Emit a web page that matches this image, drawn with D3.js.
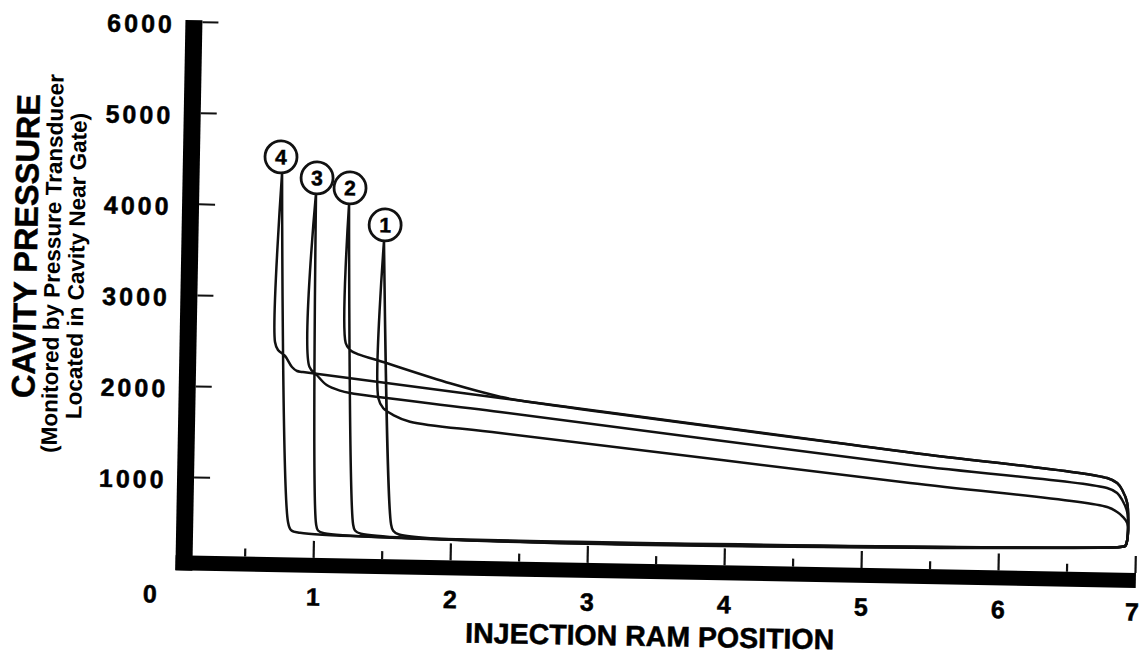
<!DOCTYPE html>
<html>
<head>
<meta charset="utf-8">
<script src="https://cdn.jsdelivr.net/npm/d3@7"></script>
<style>
  html, body { margin: 0; padding: 0; background: #fff; }
  svg { display: block; }
  text { font-family: "Liberation Sans", Arial, Helvetica, sans-serif; font-weight: bold; fill: #000; }
  .heavy { stroke: #000; stroke-width: 0.5px; }
</style>
</head>
<body>
<svg id="chart" width="1140" height="661"></svg>
<script>
// ---------- data ----------
const xTickValues = [1, 2, 3, 4, 5, 6, 7];
const xMinorTickValues = [0.5, 1.5, 2.5, 3.5, 4.5, 5.5, 6.5];
const xOriginLabel = "0";
const yTickValues = [1000, 2000, 3000, 4000, 5000, 6000];
const xTitle = "INJECTION RAM POSITION";
const yTitle = "CAVITY PRESSURE";
const ySubtitle1 = "(Monitored by Pressure Transducer";
const ySubtitle2 = "Located in Cavity Near Gate)";

const curveNames = ["1", "2", "3", "4"];
// label circle position (ram position, pressure) for each curve
const labelX = [1.481, 1.220, 0.978, 0.712];
const labelY = [3806, 4205, 4308, 4532];

// each curve is a closed pressure loop: [ram position, cavity pressure]
const curve1 = [[1.475,3630],[1.564,524],[1.580,453],[1.624,411],[6.888,419],[6.925,430],[6.939,497],
  [6.937,683],[6.906,748],[6.862,802],[6.788,855],[5.347,1079],[2.348,1545],[1.689,1651],[1.566,1721],
  [1.492,1793],[1.455,1902],[1.475,3630]];
const curve2 = [[1.215,4029],[1.287,517],[1.302,446],[1.346,411],[6.888,419],[6.925,430],[6.939,497],
  [6.934,902],[6.896,1045],[6.858,1120],[6.784,1173],[5.343,1414],[2.465,1911],[2.343,1944],[1.976,2081],
  [1.438,2322],[1.315,2374],[1.242,2426],[1.209,2502],[1.215,4029]];
const curve3 = [[0.9725,4144],[1.017,509],[1.032,438],[1.076,410],[6.888,419],[6.925,430],[6.939,497],
  [6.935,804],[6.897,935],[6.859,1011],[6.785,1063],[5.345,1276],[2.345,1776],[1.247,1954],[1.174,1978],
  [1.076,2037],[1.002,2145],[0.947,2235],[0.9725,4144]];
const curve4 = [[0.722,4356],[0.812,526],[0.835,438],[0.901,410],[6.888,419],[6.925,430],[6.939,497],
  [6.934,902],[6.896,1045],[6.858,1120],[6.784,1173],[5.343,1414],[2.343,1930],[0.901,2176],[0.858,2185],
  [0.820,2228],[0.768,2348],[0.716,2412],[0.693,2499],[0.722,4356]];
const curves = [curve1, curve2, curve3, curve4];

// ---------- layout ----------
const svg = d3.select("#chart");
const x = d3.scaleLinear().domain([0, 7]).range([176, 1135]);
const y = d3.scaleLinear().domain([0, 6000]).range([568, 21.5]);

// the scanned figure is tilted slightly clockwise
const g = svg.append("g").attr("transform", "rotate(1.05,185,563)");

const ink = "#111";

// thick axis bars
const yBarW = 17, xBarH = 15;
const xBarTop = y(0) - 12.5;
g.append("rect").attr("x", x(0) - 0.5).attr("y", y(6000) - 1.5)
  .attr("width", yBarW).attr("height", xBarTop + xBarH - (y(6000) - 1.5)).attr("fill", "#000");
g.append("rect").attr("x", x(0) - 0.5).attr("y", xBarTop)
  .attr("width", x(7) + 1 - (x(0) - 0.5)).attr("height", xBarH).attr("fill", "#000");

// y ticks (to the right of the bar)
const yTickAxis = g.append("g").attr("transform", `translate(${x(0) - 0.5 + yBarW},0)`)
  .call(d3.axisRight(y).tickValues(yTickValues).tickSize(16).tickFormat(""));
yTickAxis.select(".domain").remove();
yTickAxis.selectAll("line").attr("stroke", ink).attr("stroke-width", 2);

// y tick labels
const yLab = g.append("g").attr("transform", `translate(165,0)`)
  .call(d3.axisLeft(y).tickValues(yTickValues).tickSize(0).tickPadding(0).tickFormat(d3.format("d")));
yLab.select(".domain").remove();
yLab.selectAll("text").attr("dy", null).attr("y", 11).style("font-size", "25px")
  .style("letter-spacing", "3px").attr("fill", "#000").classed("heavy", true);

// x major ticks (upwards, above the bar)
const xMaj = g.append("g").attr("transform", `translate(0,${xBarTop})`)
  .call(d3.axisTop(x).tickValues(xTickValues).tickSize(17).tickFormat(""));
xMaj.select(".domain").remove();
xMaj.selectAll("line").attr("stroke", ink).attr("stroke-width", 2.2);

const xMin = g.append("g").attr("transform", `translate(0,${xBarTop})`)
  .call(d3.axisTop(x).tickValues(xMinorTickValues).tickSize(8).tickFormat(""));
xMin.select(".domain").remove();
xMin.selectAll("line").attr("stroke", ink).attr("stroke-width", 2.2);

// x tick labels
const xLab = g.append("g").attr("transform", `translate(0,${xBarTop + xBarH})`)
  .call(d3.axisBottom(x).tickValues(xTickValues).tickSize(0).tickPadding(15).tickFormat(d3.format("d")));
xLab.select(".domain").remove();
xLab.selectAll("text").style("font-size", "25px").attr("fill", "#000").classed("heavy", true);
// keep the last label inside the page edge
xLab.selectAll("text").filter(d => d === 7).attr("x", -3);

g.append("text").attr("x", x(0) - 25.5).attr("y", 603).attr("text-anchor", "middle")
  .style("font-size", "25px").classed("heavy", true).text(xOriginLabel);

// axis titles
g.append("text").attr("x", 651).attr("y", 637.5).attr("text-anchor", "middle")
  .style("font-size", "28.5px").classed("heavy", true).text(xTitle);

g.append("text").attr("transform", "translate(31.3,249) rotate(-90)").attr("text-anchor", "middle")
  .style("font-size", "32.5px").classed("heavy", true).text(yTitle);
g.append("text").attr("transform", "translate(54.6,266) rotate(-90)").attr("text-anchor", "middle")
  .style("font-size", "22.5px").text(ySubtitle1);
g.append("text").attr("transform", "translate(78.6,268) rotate(-90)").attr("text-anchor", "middle")
  .style("font-size", "22.5px").text(ySubtitle2);

// curves
const line = d3.line().x(d => x(d[0])).y(d => y(d[1])).curve(d3.curveCatmullRom.alpha(0.5));
g.append("g").selectAll("path").data(curves).join("path")
  .attr("d", line).attr("fill", "none").attr("stroke", ink)
  .attr("stroke-width", 2.5).attr("stroke-linejoin", "round");

// numbered circles
const lab = g.append("g").selectAll("g").data(curveNames).join("g")
  .attr("transform", (d, i) => `translate(${x(labelX[i])},${y(labelY[i])})`);
lab.append("circle").attr("r", 16).attr("fill", "#fff").attr("stroke", ink).attr("stroke-width", 2.8);
lab.append("text").attr("text-anchor", "middle").attr("y", 7.5).style("font-size", "21px")
  .classed("heavy", true).text(d => d);
</script>
</body>
</html>
